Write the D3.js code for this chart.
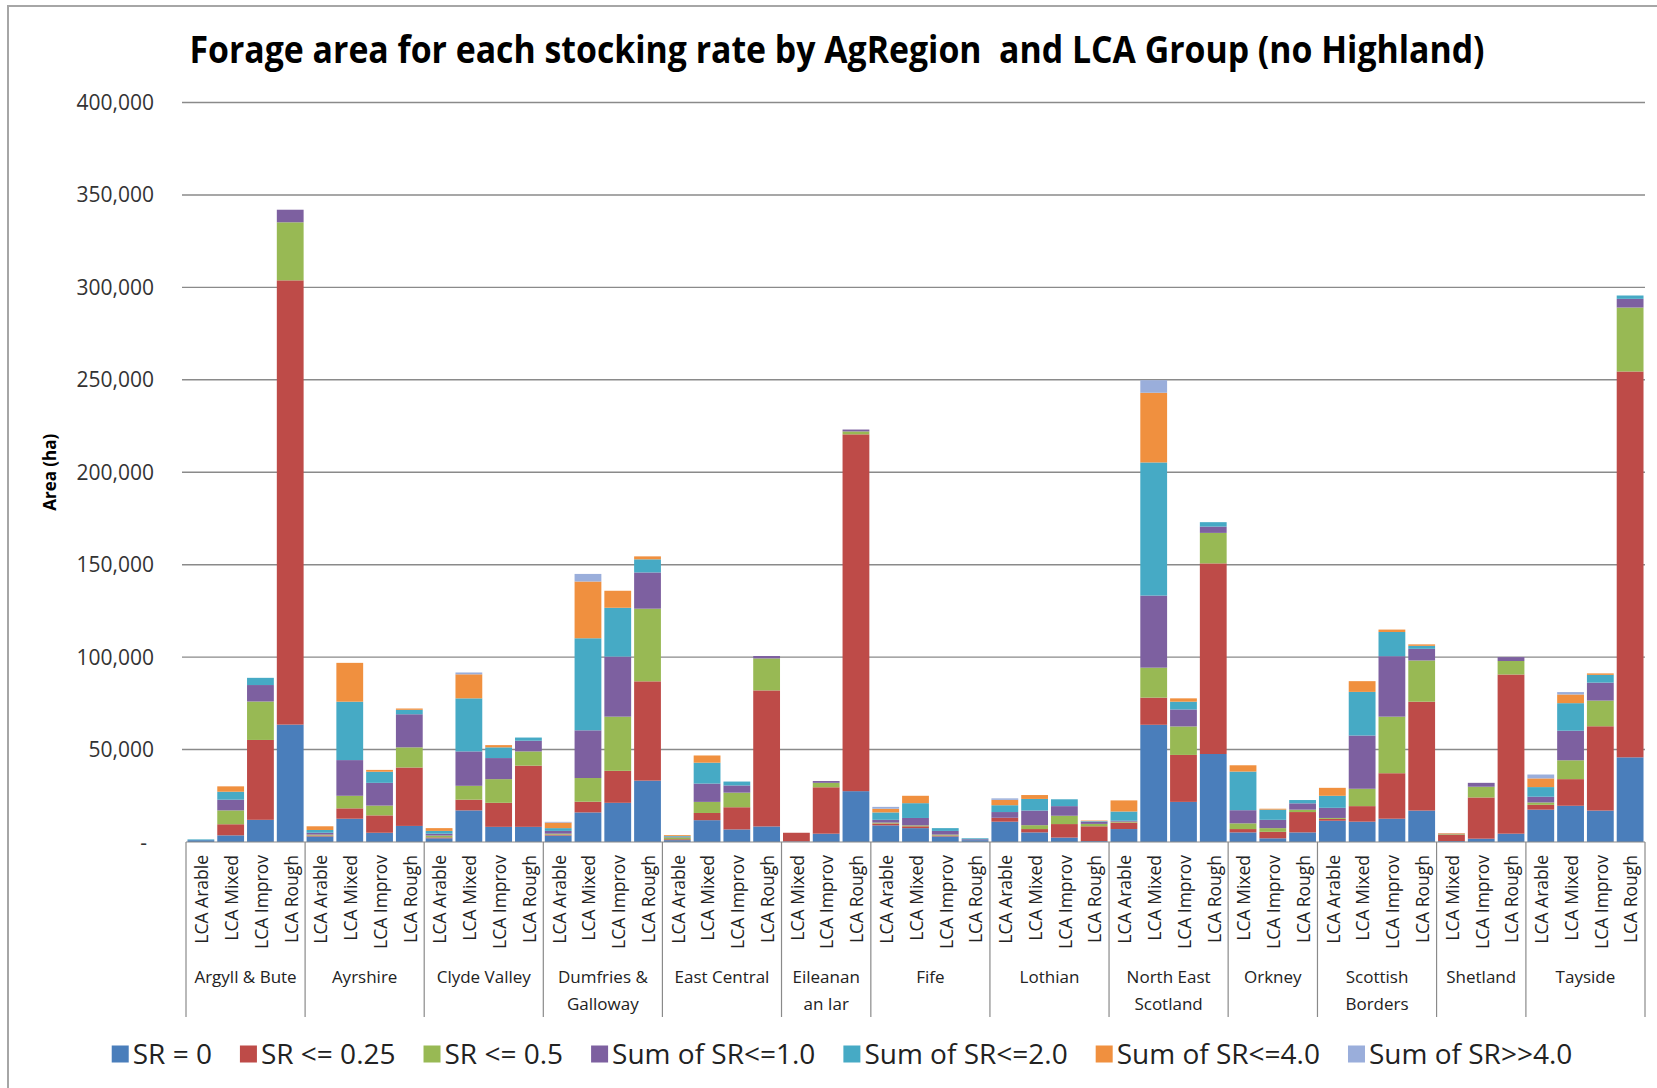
<!DOCTYPE html>
<html>
<head>
<script src="https://d3js.org/d3.v7.min.js"></script>
<style>
  body { margin: 0; background: #fff; }
  text { font-family: "Open Sans", sans-serif; fill: #262626; }
  .grid line { stroke: #8a8a8a; stroke-width: 1.4px; }
  .frame { fill: none; stroke: #a6a6a6; stroke-width: 2px; }
  .cat-line { stroke: #8a8a8a; stroke-width: 1.2px; }
</style>
</head>
<body>
<div id="chart"></div>
<script>
// Regions and the LCA groups shown for each one
const regions = ["Argyll & Bute", "Ayrshire", "Clyde Valley", "Dumfries & Galloway", "East Central",
  "Eileanan an Iar", "Fife", "Lothian", "North East Scotland", "Orkney", "Scottish Borders", "Shetland", "Tayside"];
const regionLines = [["Argyll & Bute"], ["Ayrshire"], ["Clyde Valley"], ["Dumfries &", "Galloway"], ["East Central"],
  ["Eileanan", "an Iar"], ["Fife"], ["Lothian"], ["North East", "Scotland"], ["Orkney"], ["Scottish", "Borders"], ["Shetland"], ["Tayside"]];
const lcaAll = ["LCA Arable", "LCA Mixed", "LCA Improv", "LCA Rough"];
const lcaNoArable = ["LCA Mixed", "LCA Improv", "LCA Rough"];
const lcaByRegion = [lcaAll, lcaAll, lcaAll, lcaAll, lcaAll, lcaNoArable, lcaAll, lcaAll, lcaAll, lcaNoArable, lcaAll, lcaNoArable, lcaAll];

const seriesNames = ["SR = 0", "SR <= 0.25", "SR <= 0.5", "Sum of SR<=1.0", "Sum of SR<=2.0", "Sum of SR<=4.0", "Sum of SR>>4.0"];
const seriesColors = ["#4a7ebb", "#be4b48", "#98b954", "#7d60a0", "#46aac5", "#f0903f", "#9aaedb"];

// values in ha, one per bar, in the order of the categories above
const srZero = [1000, 3600, 12000, 63500, 3000, 12600, 5000, 8700, 2000, 17100, 8200, 8200,
  3500, 16000, 21200, 33200, 1000, 11800, 6800, 8400, 300, 4500, 27500, 9000, 7500, 3000, 1000,
  11000, 5200, 2400, 500, 7000, 63400, 21700, 47600, 5200, 2000, 5200, 11500, 11000, 12600, 17000,
  500, 1800, 4500, 17500, 19600, 17000, 45800];
const srQuarter = [0, 6000, 43200, 240300, 500, 5600, 9400, 31600, 500, 5800, 13000, 33100,
  500, 5800, 17300, 53700, 500, 3900, 12000, 73600, 4700, 25100, 193000, 1000, 1000, 500, 0,
  2100, 1800, 7300, 8000, 3500, 14700, 25400, 103100, 1800, 3500, 11000, 1000, 8400, 24600, 58900,
  3500, 22300, 86100, 2600, 14400, 45600, 208700];
const srHalf = [0, 7500, 20800, 31400, 500, 6800, 5300, 10900, 1000, 7500, 12800, 7700,
  500, 12800, 29300, 39300, 1000, 6000, 7900, 17300, 0, 2400, 1600, 500, 500, 500, 0,
  0, 2100, 4500, 1300, 500, 16200, 15400, 16500, 3100, 2000, 1300, 500, 9400, 30600, 22300,
  300, 5800, 7300, 1300, 10200, 13900, 34600];
const srOne = [0, 5800, 8900, 6800, 1000, 19300, 12300, 17900, 1000, 18600, 11400, 5800,
  1500, 25800, 32500, 19600, 300, 9900, 3900, 1300, 0, 1000, 1000, 1500, 4000, 2000, 500,
  3100, 7900, 5200, 1200, 500, 39000, 9200, 3400, 7100, 4500, 3400, 5500, 28800, 32700, 6300,
  200, 2100, 2100, 3100, 16000, 9700, 4700];
const srTwo = [400, 4300, 3900, 0, 1500, 31600, 6000, 2400, 1500, 28700, 5800, 1700,
  1500, 49800, 26400, 7100, 400, 11300, 2100, 0, 0, 0, 0, 4000, 8000, 1500, 500,
  3700, 6300, 3700, 300, 5000, 72000, 4200, 2400, 20900, 5500, 1800, 6500, 23600, 13100, 1600,
  0, 0, 0, 5200, 14900, 4200, 1800];
const srFour = [0, 2900, 0, 0, 2000, 21000, 1000, 700, 1500, 13000, 1200, 0,
  3000, 30700, 9200, 1600, 500, 3900, 0, 0, 0, 0, 0, 2000, 4000, 0, 0,
  2900, 2100, 0, 300, 6000, 37700, 1800, 0, 3400, 500, 0, 4300, 5800, 1300, 800,
  300, 0, 0, 4700, 4700, 800, 0];
const srOver = [0, 0, 0, 0, 0, 0, 0, 0, 0, 1000, 0, 0,
  400, 4100, 0, 0, 0, 0, 0, 0, 0, 0, 0, 1000, 0, 0, 0,
  800, 0, 0, 0, 0, 6800, 0, 0, 0, 0, 0, 0, 0, 0, 0,
  0, 0, 0, 2100, 1300, 0, 0];
const seriesValues = [srZero, srQuarter, srHalf, srOne, srTwo, srFour, srOver];

const yTicks = [0, 50000, 100000, 150000, 200000, 250000, 300000, 350000, 400000];
const yTickLabels = ["-", "50,000", "100,000", "150,000", "200,000", "250,000", "300,000", "350,000", "400,000"];

const width = 1657, height = 1088;
const plot = { left: 186, right: 1645, top: 102.5, bottom: 842 };

const svg = d3.select("#chart").append("svg")
  .attr("width", width)
  .attr("height", height);

// chart area frame
svg.append("rect").attr("class", "frame")
  .attr("x", 8).attr("y", 6).attr("width", width + 20).attr("height", height + 20);

// one row per bar
const cats = regions.flatMap((r, i) => lcaByRegion[i].map(l => ({ region: r, lca: l, key: r + "|" + l })));
const rows = cats.map((c, i) => {
  const row = { key: c.key, lca: c.lca };
  seriesNames.forEach((s, j) => { row[s] = seriesValues[j][i]; });
  return row;
});

const x = d3.scaleBand()
  .domain(cats.map(c => c.key))
  .range([plot.left, plot.right])
  .paddingInner(0.1)
  .paddingOuter(0.05);

const y = d3.scaleLinear()
  .domain([0, 400000])
  .range([plot.bottom, plot.top]);

// gridlines
svg.append("g").attr("class", "grid")
  .selectAll("line")
  .data(yTicks.slice(1))
  .join("line")
  .attr("x1", plot.left - 4).attr("x2", plot.right)
  .attr("y1", d => y(d)).attr("y2", d => y(d));

// y tick labels
svg.append("g")
  .selectAll("text")
  .data(yTicks)
  .join("text")
  .attr("x", (d, i) => i === 0 ? 147 : 154)
  .attr("y", d => y(d))
  .attr("dy", "0.36em")
  .attr("text-anchor", "end")
  .style("font-size", "21px")
  .style("fill", "#333")
  .text((d, i) => yTickLabels[i]);

// y axis title
svg.append("text")
  .attr("transform", "translate(50," + (plot.top + plot.bottom) / 2 + ") rotate(-90)")
  .attr("dy", "0.35em")
  .attr("text-anchor", "middle")
  .style("font-size", "17px")
  .style("font-weight", "bold")
  .style("fill", "#000")
  .text("Area (ha)");

// stacked bars
const stack = d3.stack().keys(seriesNames);
const layers = stack(rows);

svg.append("g")
  .selectAll("g")
  .data(layers)
  .join("g")
  .attr("fill", (d, i) => seriesColors[i])
  .selectAll("rect")
  .data(d => d)
  .join("rect")
  .attr("x", d => x(d.data.key))
  .attr("width", x.bandwidth())
  .attr("y", d => y(d[1]))
  .attr("height", d => y(d[0]) - y(d[1]));

// category axis: baseline and group separators
const step = x.step();
const axisG = svg.append("g");
axisG.append("line").attr("class", "cat-line")
  .attr("x1", plot.left).attr("x2", plot.right)
  .attr("y1", plot.bottom).attr("y2", plot.bottom);

let start = 0;
const groups = regions.map((r, i) => {
  const n = lcaByRegion[i].length;
  const x0 = x(cats[start].key) - step * x.paddingInner() / 2;
  const x1 = x(cats[start + n - 1].key) + x.bandwidth() + step * x.paddingInner() / 2;
  start += n;
  return { lines: regionLines[i], x0, x1 };
});

const sepX = [groups[0].x0].concat(groups.map(g => g.x1));
axisG.selectAll("line.sep")
  .data(sepX)
  .join("line")
  .attr("class", "cat-line sep")
  .attr("x1", d => d).attr("x2", d => d)
  .attr("y1", plot.bottom).attr("y2", 1017);

// LCA labels, rotated
axisG.selectAll("text.lca")
  .data(cats)
  .join("text")
  .attr("class", "lca")
  .attr("transform", d => "translate(" + (x(d.key) + x.bandwidth() / 2 + 1) + "," + 855 + ") rotate(-90)")
  .attr("dy", "0.36em")
  .attr("text-anchor", "end")
  .style("font-size", "17.5px")
  .style("fill", "#222")
  .text(d => d.lca);

// region labels
const regText = axisG.selectAll("text.region")
  .data(groups)
  .join("text")
  .attr("class", "region")
  .attr("x", d => (d.x0 + d.x1) / 2)
  .attr("y", 983)
  .attr("text-anchor", "middle")
  .style("font-size", "17px")
  .style("fill", "#222");
regText.selectAll("tspan")
  .data(d => d.lines.map(t => ({ t, cx: (d.x0 + d.x1) / 2 })))
  .join("tspan")
  .attr("x", d => d.cx)
  .attr("dy", (d, i) => i === 0 ? 0 : 27)
  .text(d => d.t);

// title (keeps the double space of the original)
svg.append("text")
  .attr("x", 837)
  .attr("y", 63)
  .attr("text-anchor", "middle")
  .attr("textLength", 1295)
  .attr("lengthAdjust", "spacingAndGlyphs")
  .style("white-space", "pre")
  .style("font-size", "38px")
  .style("font-weight", "bold")
  .style("fill", "#000")
  .text("Forage area for each stocking rate by AgRegion  and LCA Group (no Highland)");

// legend
const legend = svg.append("g");
const items = legend.selectAll("g")
  .data(seriesNames)
  .join("g");
items.append("rect")
  .attr("width", 17).attr("height", 17)
  .attr("y", -8.5)
  .attr("fill", (d, i) => seriesColors[i]);
items.append("text")
  .attr("x", 21)
  .attr("dy", "0.36em")
  .style("font-size", "28px")
  .style("fill", "#222")
  .text(d => d);

const gap = 28;
const widths = [];
items.each(function () { widths.push(21 + d3.select(this).select("text").node().getComputedTextLength()); });
const total = d3.sum(widths) + gap * (widths.length - 1);
let lx = 842 - total / 2;
items.attr("transform", (d, i) => {
  const t = "translate(" + lx + ",1054)";
  lx += widths[i] + gap;
  return t;
});
</script>
</body>
</html>
